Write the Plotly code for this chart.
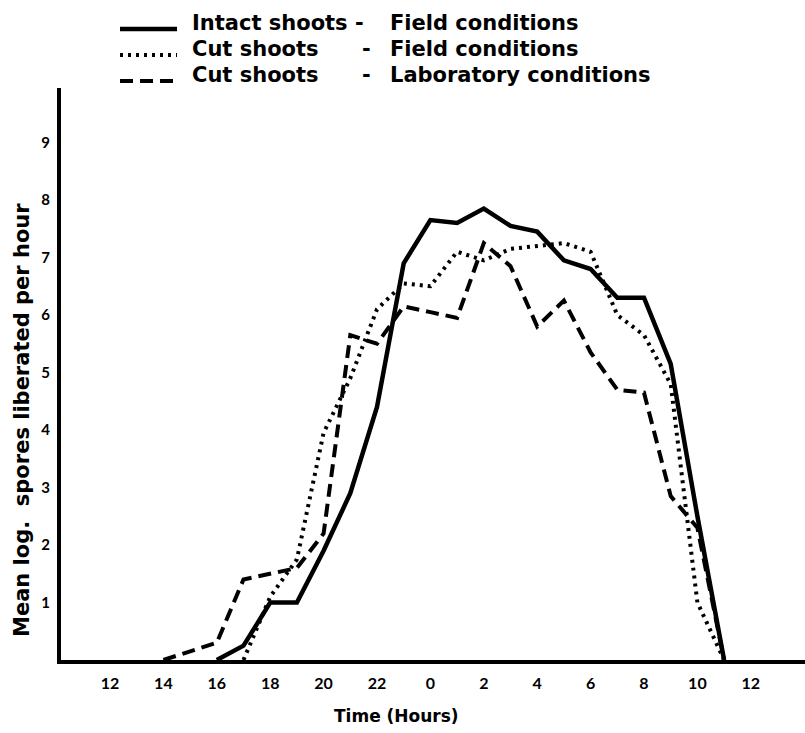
import plotly.graph_objects as go

# ---- data (time in hours on a continuous clock: 24 = 0h next day) ----
intact_t = [16, 17, 18, 19, 20, 21, 22, 23, 24, 25, 26, 27, 28, 29, 30, 31, 32, 33, 34, 35]
intact_v = [0, 0.25, 1.0, 1.0, 1.9, 2.9, 4.4, 6.9, 7.65, 7.6, 7.85, 7.55, 7.45, 6.95, 6.8, 6.3, 6.3, 5.15, 2.5, 0]

cut_field_t = [17, 18, 19, 20, 21, 22, 23, 24, 25, 26, 27, 28, 29, 30, 31, 32, 33, 34, 35]
cut_field_v = [0, 1.1, 1.75, 3.95, 4.9, 6.1, 6.55, 6.5, 7.1, 6.95, 7.15, 7.2, 7.25, 7.1, 6.0, 5.65, 4.8, 1.0, 0]

cut_lab_t = [14, 15, 16, 17, 18, 19, 20, 21, 22, 23, 24, 25, 26, 27, 28, 29, 30, 31, 32, 33, 34, 35]
cut_lab_v = [0, 0.15, 0.3, 1.4, 1.5, 1.6, 2.2, 5.65, 5.5, 6.15, 6.05, 5.95, 7.25, 6.85, 5.8, 6.25, 5.35, 4.7, 4.65, 2.85, 2.3, 0]

x_tickvals = [12, 14, 16, 18, 20, 22, 24, 26, 28, 30, 32, 34, 36]
x_ticktext = ["12", "14", "16", "18", "20", "22", "0", "2", "4", "6", "8", "10", "12"]
y_tickvals = [1, 2, 3, 4, 5, 6, 7, 8, 9]
y_ticktext = ["1", "2", "3", "4", "5", "6", "7", "8", "9"]

legend_names = ["Intact shoots -", "Cut shoots", "Cut shoots"]
legend_conds = ["Field conditions", "Field conditions", "Laboratory conditions"]

FONT = "Lato, 'DejaVu Sans', sans-serif"
WIDE = "'DejaVu Sans', sans-serif"

# ---- layout geometry (pixels) ----
W, H = 805, 733
L, R, T, B = 61, 805, 88, 660


def px(x):
    return (x - L) / (R - L)


def py(y):
    return (B - y) / (B - T)


fig = go.Figure()
fig.add_trace(go.Scatter(x=intact_t, y=intact_v, mode="lines",
                         line=dict(color="black", width=4.5), name="Intact shoots - Field conditions"))
fig.add_trace(go.Scatter(x=cut_field_t, y=cut_field_v, mode="lines",
                         line=dict(color="black", width=4, dash="3px,5px"), name="Cut shoots - Field conditions"))
fig.add_trace(go.Scatter(x=cut_lab_t, y=cut_lab_v, mode="lines",
                         line=dict(color="black", width=4, dash="13px,7px"), name="Cut shoots - Laboratory conditions"))

fig.update_layout(
    width=W, height=H,
    margin=dict(l=L, r=W - R, t=T, b=H - B),
    paper_bgcolor="white", plot_bgcolor="white",
    showlegend=False,
    font=dict(family=FONT, color="black"),
)
fig.update_xaxes(range=[12 + (L - 110) / 26.7, 12 + (R - 110) / 26.7],
                 tickvals=x_tickvals, ticktext=["<b>%s</b>" % t for t in x_ticktext],
                 showgrid=False, zeroline=False, showline=True, linewidth=4, linecolor="black",
                 ticks="", ticklabelstandoff=6, tickfont=dict(size=16, family=FONT))
fig.update_yaxes(range=[0, (B - T) / 57.5],
                 tickvals=y_tickvals, ticktext=["<b>%s</b>" % t for t in y_ticktext],
                 showgrid=False, zeroline=False, showline=True, linewidth=4, linecolor="black",
                 ticks="", ticklabelstandoff=4, tickfont=dict(size=15, family=FONT))

# axis titles
fig.add_annotation(text="<b>Mean log.&nbsp; spores liberated per hour</b>", textangle=-90,
                   xref="paper", yref="paper", x=px(22), y=py(420), showarrow=False,
                   xanchor="center", yanchor="middle",
                   font=dict(size=21, family=WIDE))
fig.add_annotation(text="<b>Time (Hours)</b>", xref="paper", yref="paper",
                   x=px(396), y=py(716), showarrow=False, xanchor="center", yanchor="middle",
                   font=dict(size=17, family=WIDE))

# legend drawn as text block
row_y = [23, 49, 75]
sample_y = [29, 55, 81]
dashes = ["solid", "3px,5px", "13px,7px"]
widths = [4.5, 4, 4]
for i in range(3):
    fig.add_shape(type="line", xref="paper", yref="paper",
                  x0=px(120), x1=px(177), y0=py(sample_y[i]), y1=py(sample_y[i]),
                  line=dict(color="black", width=widths[i], dash=dashes[i]))
    fig.add_annotation(text="<b>%s</b>" % legend_names[i], xref="paper", yref="paper",
                       x=px(190), y=py(row_y[i]), xanchor="left", yanchor="middle", showarrow=False,
                       font=dict(size=21, family=WIDE))
    if i > 0:
        fig.add_annotation(text="<b>-</b>", xref="paper", yref="paper",
                           x=px(366), y=py(row_y[i]), xanchor="center", yanchor="middle", showarrow=False,
                           font=dict(size=21, family=WIDE))
    fig.add_annotation(text="<b>%s</b>" % legend_conds[i], xref="paper", yref="paper",
                       x=px(388), y=py(row_y[i]), xanchor="left", yanchor="middle", showarrow=False,
                       font=dict(size=21, family=WIDE))

fig.write_html("out.html")
